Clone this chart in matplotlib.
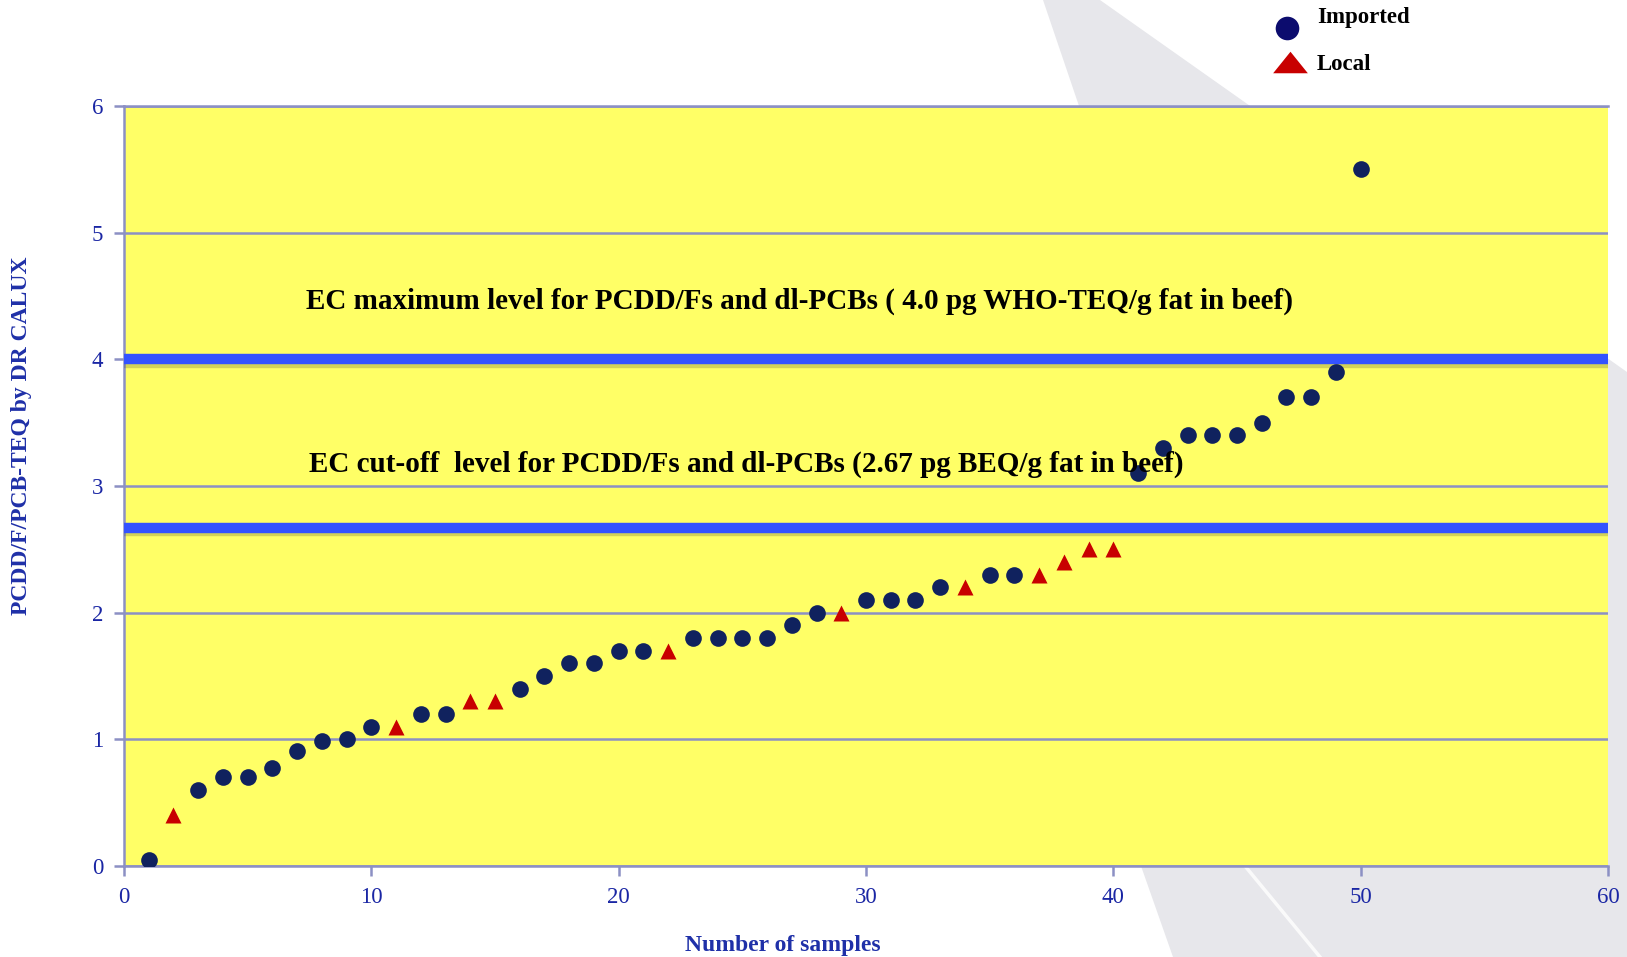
import numpy as np
import matplotlib.pyplot as plt
from matplotlib.lines import Line2D
from matplotlib.patches import Polygon
from matplotlib.path import Path
import matplotlib.patheffects as pe

# sample number and TEQ value, sorted by value
imported_x = [1, 3, 4, 5, 6, 7, 8, 9, 10, 12, 13, 16, 17, 18, 19, 20, 21, 23, 24, 25,
              26, 27, 28, 30, 31, 32, 33, 35, 36, 41, 42, 43, 44, 45, 46, 47, 48, 49, 50]
imported_y = [0.05, 0.6, 0.7, 0.7, 0.77, 0.91, 0.99, 1.0, 1.1, 1.2, 1.2, 1.4, 1.5, 1.6, 1.6, 1.7, 1.7, 1.8, 1.8, 1.8,
              1.8, 1.9, 2.0, 2.1, 2.1, 2.1, 2.2, 2.3, 2.3, 3.1, 3.3, 3.4, 3.4, 3.4, 3.5, 3.7, 3.7, 3.9, 5.5]
local_x = [2, 11, 14, 15, 22, 29, 34, 37, 38, 39, 40]
local_y = [0.4, 1.1, 1.3, 1.3, 1.7, 2.0, 2.2, 2.3, 2.4, 2.5, 2.5]

max_level = 4.0
cutoff_level = 2.67
max_text = "EC maximum level for PCDD/Fs and dl-PCBs ( 4.0 pg WHO-TEQ/g fat in beef)"
cutoff_text = "EC cut-off  level for PCDD/Fs and dl-PCBs (2.67 pg BEQ/g fat in beef)"

W, H = 1627, 957
fig = plt.figure(figsize=(W / 100, H / 100), dpi=100)
fig.patch.set_facecolor("white")

# grey swoosh in the slide background
def px(pts):
    return [(x / W, 1 - y / H) for x, y in pts]

swoosh = Polygon(px([(1043, 0), (1100, 0), (1627, 372), (1627, 957), (1173, 957),
                     (1141, 866), (1079, 106)]),
                 closed=True, transform=fig.transFigure, facecolor="#e7e7eb",
                 edgecolor="none", zorder=-2)
fig.patches.append(swoosh)
streak = Line2D([1245 / W, 1320 / W], [1 - 866 / H, 0], transform=fig.transFigure,
                color="white", lw=2.5, alpha=0.8, zorder=-1)
fig.lines.append(streak)

ax = fig.add_axes([124 / W, 1 - 866 / H, 1484 / W, 760 / H])
ax.set_zorder(1)
ax.set_facecolor("#ffff66")
ax.set_xlim(0, 60)
ax.set_ylim(0, 6)
ax.set_xticks(range(0, 61, 10))
ax.set_yticks(range(0, 7))

grid_col = "#8c90c4"
ax.yaxis.grid(True, color=grid_col, lw=1.8, zorder=1)
ax.set_axisbelow(True)
ax.spines["right"].set_visible(False)
for s in ["left", "bottom", "top"]:
    ax.spines[s].set_color(grid_col)
    ax.spines[s].set_linewidth(1.8)
ax.tick_params(axis="both", direction="out", length=7, width=1.8, color=grid_col,
               labelcolor="#1a26a4", labelsize=16.5, pad=8)
for lab in ax.get_xticklabels() + ax.get_yticklabels():
    lab.set_family("Liberation Serif")

# EC limit lines
shadow = [pe.SimpleLineShadow(offset=(0.5, -2.5), shadow_color="#505030", alpha=0.25), pe.Normal()]
ax.axhline(max_level, color="#3453ff", lw=7.5, zorder=3, path_effects=shadow)
ax.axhline(cutoff_level, color="#3453ff", lw=7.5, zorder=3, path_effects=shadow)

ax.plot(imported_x, imported_y, "o", color="#10225e", ms=12, mec="none", zorder=5)
ax.plot(local_x, local_y, "^", color="#c80000", ms=12, mec="none", zorder=5)

ax.text(27.3, 4.46, max_text, ha="center", va="center", fontsize=21,
        fontweight="bold", family="Liberation Serif", color="black", zorder=6)
ax.text(25.15, 3.17, cutoff_text, ha="center", va="center", fontsize=21,
        fontweight="bold", family="Liberation Serif", color="black", zorder=6)

fig.text(22 / W, 1 - 436 / H, "PCDD/F/PCB-TEQ by DR CALUX", rotation=90,
         ha="center", va="center", fontsize=17, fontweight="bold",
         family="Liberation Serif", color="#1f30a8")
fig.text(783 / W, 1 - 945 / H, "Number of samples", ha="center", va="center",
         fontsize=17, fontweight="bold", family="Liberation Serif", color="#1f30a8")

# legend outside the plot area
flat_tri = Path([(-1, -0.62), (1, -0.62), (0, 0.62), (-1, -0.62)])
fig.lines.append(Line2D([1287 / W], [1 - 28 / H], marker="o", ms=17, color="#0c0c6e",
                        mec="none", transform=fig.transFigure))
fig.lines.append(Line2D([1290 / W], [1 - 62 / H], marker=flat_tri, ms=25, color="#c80000",
                        mec="none", transform=fig.transFigure))
fig.text(1317 / W, 1 - 18 / H, "Imported", ha="left", va="center", fontsize=16.5,
         fontweight="bold", family="Liberation Serif")
fig.text(1317 / W, 1 - 64 / H, "Local", ha="left", va="center", fontsize=16.5,
         fontweight="bold", family="Liberation Serif")

plt.savefig("out.png", dpi=100)
